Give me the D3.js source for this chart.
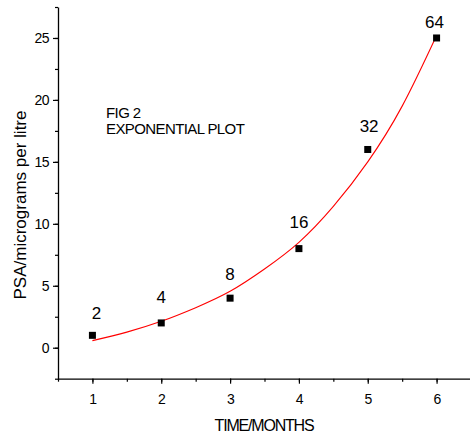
<!DOCTYPE html>
<html>
<head>
<meta charset="utf-8">
<script src="https://cdn.jsdelivr.net/npm/d3@7"></script>
<style>
  body { margin: 0; background: #fff; }
  text { font-family: "Liberation Sans", Arial, sans-serif; fill: #000; }
</style>
</head>
<body>
<div id="chart"></div>
<script>
const width = 470;
const height = 436;

// data
const months = [1, 2, 3, 4, 5, 6];
const psa = [1, 2, 4, 8, 16, 25];
const labels = ["2", "4", "8", "16", "32", "64"];
const labelX = [1.06, 2, 3, 4, 5.02, 5.97];
const labelY = [2.3, 3.6, 5.5, 9.7, 17.4, 25.8];
// exponential fit
const fitX = [1, 1.5, 2, 2.5, 3, 3.5, 4, 4.5, 5, 5.5, 6];
const fitY = [0.57, 1.26, 2.13, 3.23, 4.55, 6.35, 8.5, 11.4, 15.0, 19.5, 25.2];
const yTicks = [0, 5, 10, 15, 20, 25];
const xTicks = [1, 2, 3, 4, 5, 6];

const margin = {left: 58, top: 7, right: 0, bottom: 57};

const x = d3.scaleLinear().domain([0.5, 6.5]).range([margin.left, 471]);
const y = d3.scaleLinear().domain([-2.5, 27.5]).range([378.7, margin.top]);

const svg = d3.select("#chart").append("svg")
    .attr("width", width)
    .attr("height", height);

// minor ticks first, then major axes
svg.append("g")
    .attr("transform", `translate(${margin.left},0)`)
    .call(d3.axisLeft(y).tickValues(d3.range(-2.5, 27.6, 2.5)).tickSize(3).tickFormat(""))
    .call(g => g.select(".domain").remove());
svg.append("g")
    .attr("transform", `translate(0,${y(-2.5)})`)
    .call(d3.axisBottom(x).tickValues(d3.range(0.5, 6.6, 0.5)).tickSize(3).tickFormat(""))
    .call(g => g.select(".domain").remove());

svg.append("g")
    .attr("transform", `translate(${margin.left},0)`)
    .call(d3.axisLeft(y).tickValues(yTicks).tickFormat(d3.format("d"))
      .tickSize(5).tickSizeOuter(0).tickPadding(4));
svg.append("g")
    .attr("transform", `translate(0,${y(-2.5)})`)
    .call(d3.axisBottom(x).tickValues(xTicks).tickFormat(d3.format("d"))
      .tickSize(5).tickSizeOuter(0).tickPadding(10));

svg.selectAll(".tick line").attr("stroke", "#000").attr("stroke-width", 1.2);
svg.selectAll(".domain").attr("stroke", "#000").attr("stroke-width", 1.3);
svg.selectAll(".tick text")
    .style("font-family", '"Liberation Sans", Arial, sans-serif')
    .style("font-size", "14px")
    .style("letter-spacing", "-0.5px")
    .attr("fill", "#000");

// fitted curve
svg.append("path")
    .datum(fitX.map((d, i) => [d, fitY[i]]))
    .attr("fill", "none")
    .attr("stroke", "#ff0000")
    .attr("stroke-width", 1.1)
    .attr("d", d3.line().x(d => x(d[0])).y(d => y(d[1])).curve(d3.curveNatural));

// data points
svg.append("g")
  .selectAll("rect")
  .data(months)
  .join("rect")
    .attr("x", d => x(d) - 3.5)
    .attr("y", (d, i) => y(psa[i]) - 3.5)
    .attr("width", 7)
    .attr("height", 7)
    .attr("fill", "#000");

// value labels
svg.append("g")
    .attr("text-anchor", "middle")
    .style("font-size", "17px")
  .selectAll("text")
  .data(labels)
  .join("text")
    .attr("x", (d, i) => x(labelX[i]))
    .attr("y", (d, i) => y(labelY[i]))
    .text(d => d);

// annotation
svg.append("text")
    .attr("x", 106).attr("y", 118)
    .style("font-size", "15px")
    .style("letter-spacing", "-0.6px")
    .text("FIG 2");
svg.append("text")
    .attr("x", 106).attr("y", 134)
    .style("font-size", "15px")
    .style("letter-spacing", "-0.6px")
    .text("EXPONENTIAL PLOT");

// axis titles
svg.append("text")
    .attr("x", 264).attr("y", 431)
    .attr("text-anchor", "middle")
    .style("font-size", "16px")
    .style("letter-spacing", "-1.2px")
    .text("TIME/MONTHS");
svg.append("text")
    .attr("transform", "translate(26,205) rotate(-90)")
    .attr("text-anchor", "middle")
    .style("font-size", "17px")
    .text("PSA/micrograms per litre");
</script>
</body>
</html>
